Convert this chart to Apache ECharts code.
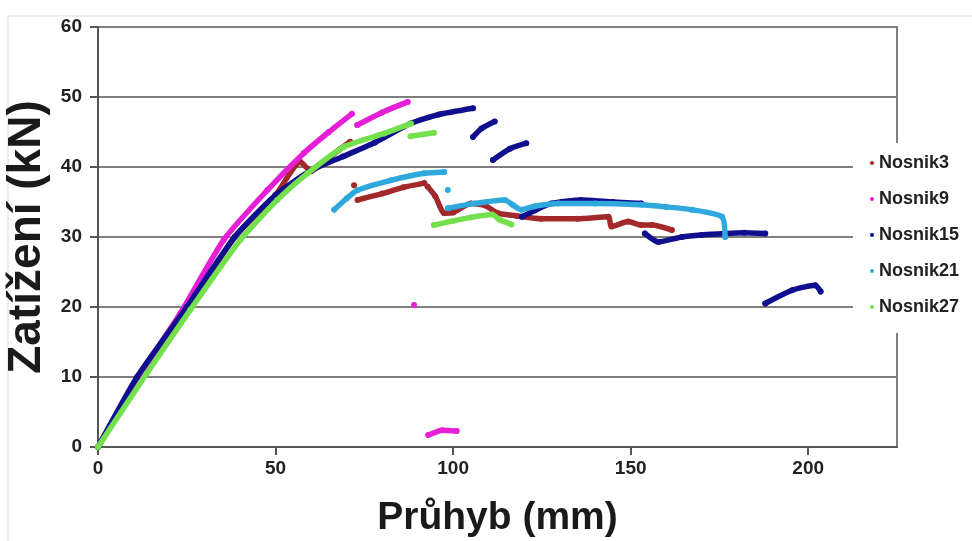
<!DOCTYPE html>
<html>
<head>
<meta charset="utf-8">
<script src="https://cdn.jsdelivr.net/npm/echarts@6/dist/echarts.min.js"></script>
<style>
html,body{margin:0;padding:0;background:#fff;}
#chart{width:972px;height:541px;}
</style>
</head>
<body>
<div id="chart"></div>
<script>
// Series names (legend)
const seriesNames = ["Nosnik3", "Nosnik9", "Nosnik15", "Nosnik21", "Nosnik27"];
const seriesColors = ["#A3282A", "#E61ED6", "#10108F", "#2FA8DE", "#74E04E"];

// Axis ticks
const xTicks = [0, 50, 100, 150, 200];
const yTicks = [0, 10, 20, 30, 40, 50, 60];

// [deflection mm, load kN]; null = gap between measured segments
const nosnik3 = [
  [0,0],[12,10],[25.5,20],[38.5,30],[50,36],[57,40.7],[60,39.4],[63,40.5],[68,42.5],[71,43.6], null,
  [72.1,37.4], null,
  [73.1,35.3],[80,36.2],[86,37.1],[91.9,37.7], null,
  [92.8,37.2],[95,35.8],[97.5,33.4],[100,33.5],[105,34.8],[109,34.5],[112.6,33.4],[118,33],[124.9,32.6],[135,32.6],[143.7,32.9],[144.6,31.5],[149.3,32.2],[153,31.7],[156,31.7],[161.6,31]
];
const nosnik9 = [
  [0,0],[11.4,10],[23.2,19.1],[35.4,29.6],[47.7,36.7],[58,42],[65,45],[71.5,47.6], null,
  [73,46],[80,47.8],[87.2,49.3], null,
  [89,20.3], null,
  [93,1.7],[97,2.4],[101,2.3]
];
const nosnik15 = [
  [0,0],[11,10],[25,20],[38.5,30],[50,36],[60,39.5],[69,41.5],[78,43.5],[88,46.2],[96,47.5],[105.6,48.4], null,
  [105.6,44.3],[108,45.5],[111.7,46.5], null,
  [111.2,41],[116,42.6],[120.6,43.4], null,
  [119.4,32.9],[123,33.8],[127.7,34.8],[136,35.3],[145,35],[153,34.8], null,
  [154,30.5],[157.8,29.3],[164.4,30],[170,30.3],[176.6,30.5],[182,30.6],[187.9,30.5], null,
  [187.9,20.5],[195.5,22.4],[202,23.1],[203.5,22.2]
];
const nosnik21 = [
  [66.5,33.9],[70,35.5],[73.1,36.7],[82.5,38.1],[91.9,39.1],[97.5,39.3], null,
  [98.5,36.7], null,
  [98.5,34.1],[106,34.8],[114.5,35.3],[117,34.5],[119.2,33.9],[123,34.4],[129.6,34.8],[140,34.8],[153,34.6],[160,34.3],[167.2,33.9],[175.7,32.9],[176.6,30]
];
const nosnik27 = [
  [0,0],[13.7,10.5],[26,19.6],[40.1,29.6],[50.5,35.3],[59,39.1],[69.3,42.9],[80.6,44.8],[88.1,46.2], null,
  [88,44.4],[94.6,44.9], null,
  [94.6,31.7],[100,32.3],[105,32.8],[111,33.2],[113,32.5],[116.4,31.8]
];

const allData = [nosnik3, nosnik9, nosnik15, nosnik21, nosnik27];

const chart = echarts.init(document.getElementById('chart'), null, {renderer: 'canvas'});
const font = "'Liberation Sans', Arial, sans-serif";

const series = allData.map((d, i) => ({
  name: seriesNames[i],
  type: 'line',
  data: d.map(p => p === null ? ['-', '-'] : p),
  connectNulls: false,
  smooth: 0.2,
  symbol: 'circle',
  symbolSize: 6,
  showAllSymbol: true,
  itemStyle: {color: seriesColors[i]},
  lineStyle: {color: seriesColors[i], width: 5.5, cap: 'round', join: 'round'},
  emphasis: {disabled: true},
  z: 2 + i
}));

chart.setOption({
  animation: false,
  backgroundColor: '#ffffff',
  graphic: [
    {type: 'rect', shape: {x: 8, y: 16, width: 1000, height: 600}, style: {fill: 'none', stroke: '#dddddd', lineWidth: 1}, z: -10}
  ],
  grid: {left: 98, right: 75, top: 27, bottom: 94, show: true, borderColor: '#7f7f7f', borderWidth: 2, backgroundColor: 'transparent', containLabel: false, outerBoundsMode: 'none'},
  legend: {
    orient: 'vertical',
    left: 853, top: 143,
    padding: [11, 0, 17, 17],
    backgroundColor: '#ffffff',
    icon: 'circle',
    itemWidth: 4, itemHeight: 4,
    itemGap: 18,
    textStyle: {fontFamily: font, fontWeight: 'bold', fontSize: 18, color: '#222', lineHeight: 18},
    data: seriesNames
  },
  xAxis: {
    type: 'value', min: 0, max: 225, interval: 50,
    name: 'Průhyb (mm)', nameLocation: 'middle', nameGap: 52,
    nameTextStyle: {fontFamily: font, fontWeight: 'bold', fontSize: 39, color: '#1a1a1a'},
    axisLine: {show: true, onZero: false, lineStyle: {color: '#555', width: 2}},
    axisTick: {show: true, length: 8, lineStyle: {color: '#555', width: 2}, customValues: xTicks},
    axisLabel: {fontFamily: font, fontWeight: 'bold', fontSize: 19, color: '#222', margin: 12, customValues: xTicks},
    splitLine: {show: false}
  },
  yAxis: {
    type: 'value', min: 0, max: 60, interval: 10,
    name: 'Zatížení (kN)', nameLocation: 'middle', nameGap: 42, nameRotate: 90,
    nameTextStyle: {fontFamily: font, fontWeight: 'bold', fontSize: 46, color: '#1a1a1a'},
    axisLine: {show: true, lineStyle: {color: '#555', width: 2}},
    axisTick: {show: true, length: 8, lineStyle: {color: '#555', width: 2}},
    axisLabel: {fontFamily: font, fontWeight: 'bold', fontSize: 19, color: '#222', margin: 16, customValues: yTicks},
    splitLine: {show: true, lineStyle: {color: '#7f7f7f', width: 2}}
  },
  series: series
});
</script>
</body>
</html>
